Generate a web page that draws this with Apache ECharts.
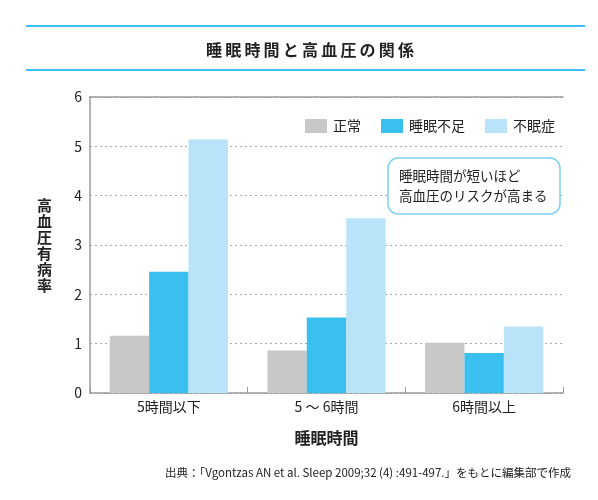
<!DOCTYPE html>
<html lang="ja">
<head>
    <meta charset="UTF-8">
    <title>睡眠時間と高血圧の関係</title>
    <script src="https://cdn.jsdelivr.net/npm/echarts@6/dist/echarts.min.js"></script>
    <style>
        html, body { margin: 0; padding: 0; background: #fff; }
        #chart { width: 598px; height: 500px; }
    </style>
</head>
<body>
<div id="chart"></div>

<script type="text/javascript">
    // データ
    var categories = ['5時間以下', '5 ～ 6時間', '6時間以上'];
    var seriesNames = ['正常', '睡眠不足', '不眠症'];
    var normalValues = [1.16, 0.86, 1.02];
    var shortSleepValues = [2.46, 1.53, 0.81];
    var insomniaValues = [5.14, 3.54, 1.35];
    var yTicks = [0, 1, 2, 3, 4, 5, 6];

    var colors = ['#c8c8c8', '#3ac0ef', '#b9e3f8'];
    var axisColor = '#9a9a9a';
    var font = '"Noto Sans CJK JP", "Noto Sans", sans-serif';

    var chart = echarts.init(document.getElementById('chart'));

    var option = {
        textStyle: { fontFamily: font },
        title: [
            {
                // タイトル（文字間を少し空ける）
                text: '睡眠時間と高血圧の関係'.split('').join('\u2009'),
                left: 305,
                top: 37,
                textAlign: 'center',
                textStyle: { fontSize: 16, fontWeight: 'bold', color: '#222', fontFamily: font }
            },
            {
                // 吹き出し
                text: '睡眠時間が短いほど\n高血圧のリスクが高まる',
                left: 388,
                top: 158,
                padding: [8, 13, 8, 11],
                borderColor: '#7ccff2',
                borderWidth: 1.5,
                borderRadius: 10,
                backgroundColor: '#fff',
                textStyle: { fontSize: 13.5, fontWeight: 'normal', color: '#222', lineHeight: 20, fontFamily: font }
            },
            {
                // 出典
                text: '出典：「Vgontzas AN et al. Sleep 2009;32 (4) :491-497.」をもとに編集部で作成',
                right: 22,
                top: 462,
                textStyle: { fontSize: 11.5, fontWeight: 'normal', color: '#222', fontFamily: font }
            }
        ],
        graphic: [
            { type: 'line', shape: { x1: 26, y1: 26, x2: 585, y2: 26 }, style: { stroke: '#3bbfef', lineWidth: 2 } },
            { type: 'line', shape: { x1: 26, y1: 70, x2: 585, y2: 70 }, style: { stroke: '#3bbfef', lineWidth: 2 } }
        ],
        legend: {
            data: seriesNames,
            right: 38,
            top: 114,
            icon: 'rect',
            itemWidth: 22,
            itemHeight: 14,
            itemGap: 20,
            textStyle: { fontSize: 14, color: '#222', padding: [0, 0, 0, 1] }
        },
        grid: {
            left: 90,
            right: 35,
            top: 97,
            bottom: 107
        },
        xAxis: [
            {
                type: 'category',
                data: categories,
                name: '睡眠時間',
                nameLocation: 'middle',
                nameGap: 37,
                nameTextStyle: { fontSize: 16, fontWeight: 'bold', color: '#222' },
                axisLine: { lineStyle: { color: axisColor, width: 1.5 } },
                axisTick: { show: true, inside: true, length: 6, lineStyle: { color: axisColor } },
                axisLabel: { fontSize: 14, color: '#222', margin: 7 }
            },
            {
                type: 'category',
                data: categories,
                position: 'top',
                axisLine: { show: true, lineStyle: { color: axisColor, width: 1.5 } },
                axisTick: { show: false },
                axisLabel: { show: false }
            }
        ],
        yAxis: {
            type: 'value',
            min: yTicks[0],
            max: yTicks[yTicks.length - 1],
            interval: 1,
            name: '高\n血\n圧\n有\n病\n率',
            nameLocation: 'middle',
            nameRotate: 0,
            nameGap: 38,
            nameTextStyle: { fontSize: 15, fontWeight: 'bold', color: '#222', lineHeight: 16 },
            axisLine: { show: true, lineStyle: { color: axisColor, width: 1.5 } },
            axisTick: { show: false },
            axisLabel: { fontSize: 14, color: '#222', margin: 8 },
            splitLine: { lineStyle: { color: '#a8a8a8', type: [2, 3], width: 1 } }
        },
        series: [
            {
                name: seriesNames[0],
                type: 'bar',
                data: normalValues,
                barWidth: '25%',
                barGap: '0%',
                itemStyle: { color: colors[0] }
            },
            {
                name: seriesNames[1],
                type: 'bar',
                data: shortSleepValues,
                barWidth: '25%',
                barGap: '0%',
                itemStyle: { color: colors[1] }
            },
            {
                name: seriesNames[2],
                type: 'bar',
                data: insomniaValues,
                barWidth: '25%',
                barGap: '0%',
                itemStyle: { color: colors[2] }
            }
        ]
    };

    chart.setOption(option);
</script>
</body>
</html>
